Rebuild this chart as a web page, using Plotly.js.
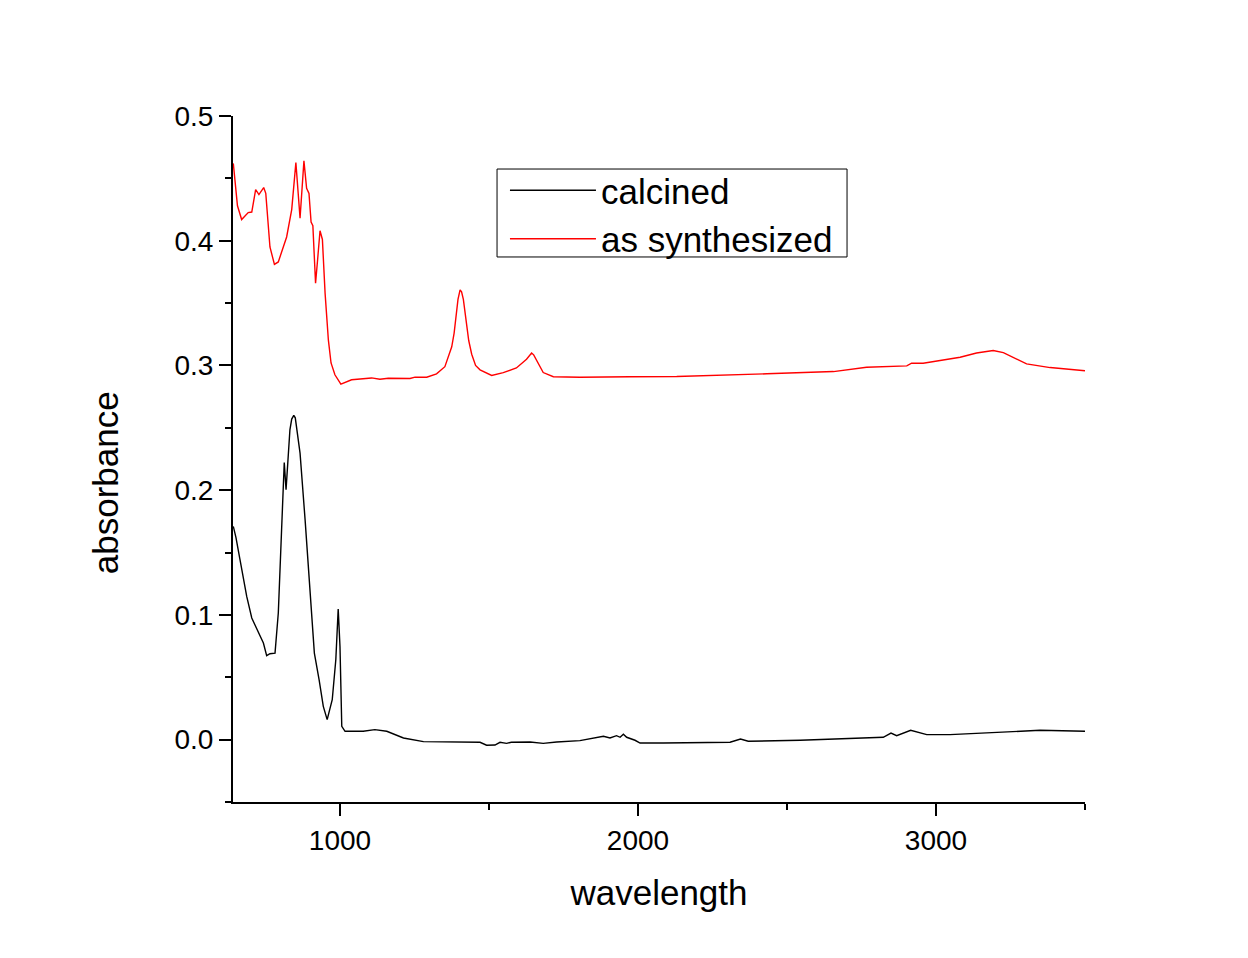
<!DOCTYPE html>
<html>
<head>
<meta charset="utf-8">
<script src="https://cdn.plot.ly/plotly-3.0.1.min.js"></script>
<style>html,body{margin:0;padding:0;background:#fff;}#chart{width:1248px;height:958px;}</style>
</head>
<body>
<div id="chart"></div>
<script>
// calcined (black)
const xCalcined = [642,651,664,687,704,726,743,754,765,782,793,804,813,819,824,832,838,845,850,854,866,883,899,914,930,944,957,974,986,994,1000,1006,1017,1078,1117,1157,1213,1280,1470,1492,1520,1537,1559,1575,1638,1682,1727,1805,1884,1906,1928,1940,1951,1962,1990,2007,2085,2309,2344,2370,2544,2823,2849,2868,2915,2969,3047,3215,3349,3500];
const yCalcined = [0.171,0.162,0.145,0.1148,0.0975,0.0855,0.0775,0.0673,0.0689,0.0694,0.1015,0.168,0.2222,0.2003,0.219,0.2484,0.257,0.260,0.258,0.251,0.2297,0.176,0.1228,0.0694,0.048,0.0267,0.016,0.032,0.064,0.1047,0.0748,0.0107,0.0067,0.0067,0.008,0.0067,0.0013,-0.0016,-0.0021,-0.0045,-0.0043,-0.0021,-0.003,-0.0021,-0.0019,-0.003,-0.0019,-0.0008,0.0027,0.0013,0.0032,0.0019,0.0043,0.0019,-0.0005,-0.0027,-0.0027,-0.0021,0.0005,-0.0013,-0.0005,0.0019,0.0053,0.0032,0.0075,0.004,0.004,0.0059,0.0075,0.0067];

// as synthesized (red)
const xSynth = [642,656,670,692,704,717,728,744,751,765,780,793,821,838,852,866,879,888,896,903,909,918,925,933,941,950,961,970,983,1003,1039,1106,1134,1162,1235,1252,1291,1324,1352,1375,1383,1389,1396,1403,1408,1414,1419,1425,1432,1442,1455,1470,1509,1548,1592,1626,1636,1643,1650,1660,1682,1716,1805,1973,2130,2432,2656,2767,2902,2918,2957,3081,3136,3192,3226,3304,3383,3500];
const ySynth = [0.462,0.428,0.417,0.4226,0.423,0.441,0.437,0.4426,0.438,0.395,0.381,0.383,0.403,0.425,0.4626,0.418,0.464,0.442,0.438,0.415,0.412,0.366,0.385,0.408,0.401,0.358,0.3205,0.302,0.2925,0.285,0.2885,0.290,0.289,0.2898,0.2895,0.2906,0.2906,0.2933,0.299,0.315,0.326,0.339,0.353,0.3606,0.359,0.353,0.344,0.332,0.320,0.309,0.300,0.2965,0.292,0.2943,0.298,0.305,0.3085,0.310,0.3085,0.304,0.2943,0.291,0.2905,0.291,0.2911,0.2933,0.2951,0.2986,0.2997,0.3018,0.3018,0.3066,0.310,0.312,0.3103,0.3013,0.2983,0.2957];

const xTickVals = [1000, 2000, 3000];
const yTickVals = [0.0, 0.1, 0.2, 0.3, 0.4, 0.5];

const FONT = 'Liberation Sans, Arial, sans-serif';

const traces = [
  {x: xCalcined, y: yCalcined, name: 'calcined', type: 'scatter', mode: 'lines',
   line: {color: '#000000', width: 1.4}},
  {x: xSynth, y: ySynth, name: 'as synthesized', type: 'scatter', mode: 'lines',
   line: {color: '#ff0000', width: 1.4}}
];

const layout = {
  width: 1248, height: 958,
  paper_bgcolor: '#ffffff', plot_bgcolor: '#ffffff',
  margin: {l: 233, r: 163, t: 116, b: 156, pad: 0},
  font: {family: FONT, color: '#000'},
  showlegend: true,
  legend: {
    x: 0.3192, y: 0.9344, xanchor: 'left', yanchor: 'top',
    borderwidth: 0, bgcolor: 'rgba(0,0,0,0)',
    font: {family: FONT, size: 35, color: '#000'},
    itemwidth: 86, tracegroupgap: 0
  },
  shapes: [{
    type: 'rect', xref: 'paper', yref: 'paper',
    x0: 0.3099, x1: 0.7207, y0: 0.7945, y1: 0.9227,
    line: {color: '#000', width: 1}, fillcolor: 'rgba(0,0,0,0)', layer: 'above'
  }],
  xaxis: {
    range: [641, 3500], showgrid: false, zeroline: false,
    showline: true, linecolor: '#000', linewidth: 2,
    tickmode: 'array', tickvals: xTickVals, ticktext: xTickVals.map(String),
    ticks: 'outside', ticklen: 12, tickwidth: 2, tickcolor: '#000',
    tickfont: {family: FONT, size: 28, color: '#000'},
    minor: {dtick: 500, tick0: 0, ticks: 'outside', ticklen: 6, tickwidth: 2, tickcolor: '#000', showgrid: false},
    title: {text: 'wavelength', font: {family: FONT, size: 35, color: '#000'}, standoff: 26}
  },
  yaxis: {
    range: [-0.05, 0.5], showgrid: false, zeroline: false,
    showline: true, linecolor: '#000', linewidth: 2,
    tickmode: 'array', tickvals: yTickVals, ticktext: yTickVals.map(v => v.toFixed(1)),
    ticks: 'outside', ticklen: 12, tickwidth: 2, tickcolor: '#000',
    tickfont: {family: FONT, size: 28, color: '#000'},
    minor: {dtick: 0.05, tick0: 0, ticks: 'outside', ticklen: 6, tickwidth: 2, tickcolor: '#000', showgrid: false},
    title: {text: ''}
  },
  annotations: [{
    text: 'absorbance', xref: 'paper', yref: 'paper',
    x: -0.150, y: 0.465, xanchor: 'center', yanchor: 'middle',
    textangle: -90, showarrow: false,
    font: {family: FONT, size: 35, color: '#000'}
  }]
};

Plotly.newPlot('chart', traces, layout, {displayModeBar: false, staticPlot: true});
</script>
</body>
</html>
